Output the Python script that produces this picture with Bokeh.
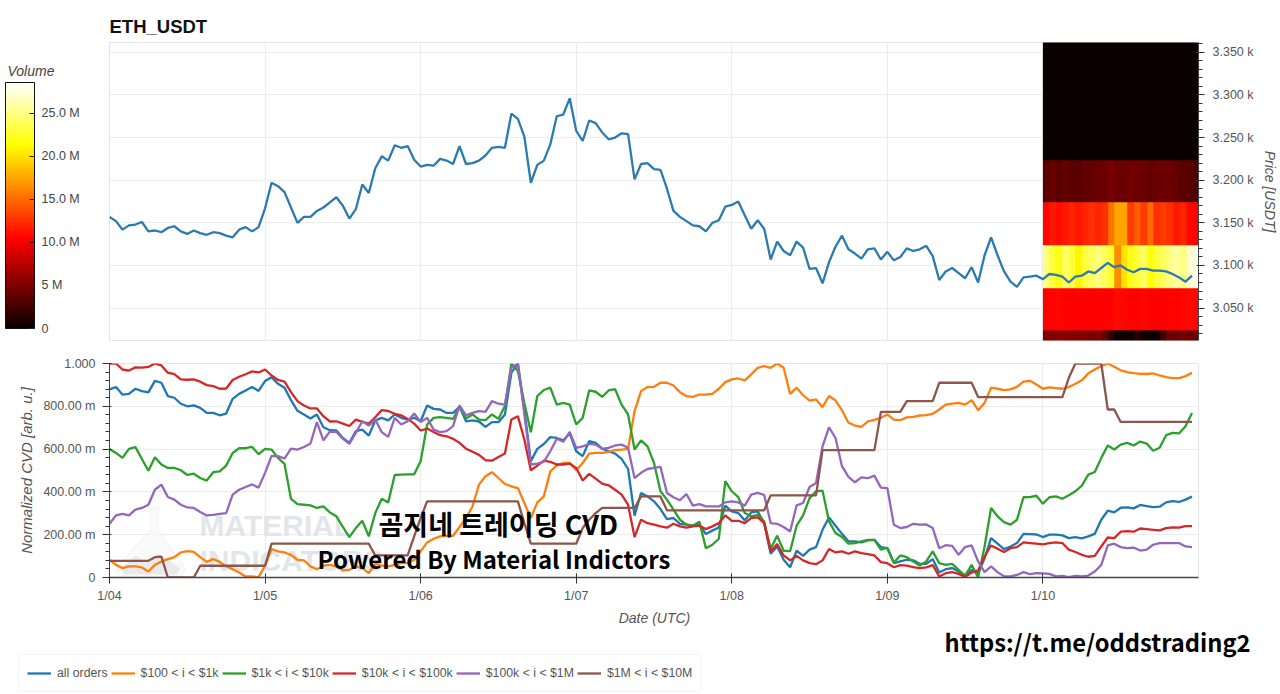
from datetime import datetime, timezone
import numpy as np
from bokeh.embed import file_html
from bokeh.layouts import column
from bokeh.models import (ColorBar, FixedTicker, Label, Legend, LegendItem,
                          LinearColorMapper, PolyAnnotation, Range1d)
from bokeh.plotting import figure
from bokeh.resources import INLINE

TITLE = "ETH_USDT"
DAY_LABELS = ["1/04", "1/05", "1/06", "1/07", "1/08", "1/09", "1/10"]
START = datetime(2022, 1, 4, tzinfo=timezone.utc)

PRICE_TICKS = [3050, 3100, 3150, 3200, 3250, 3300, 3350]
PRICE_LABELS = ["3.050 k", "3.100 k", "3.150 k", "3.200 k", "3.250 k", "3.300 k", "3.350 k"]
CVD_TICKS = [0, 0.2, 0.4, 0.6, 0.8, 1.0]
CVD_LABELS = ["0", "200.00 m", "400.00 m", "600.00 m", "800.00 m", "1.000"]
VOL_TICKS = [0, 5e6, 10e6, 15e6, 20e6, 25e6]
VOL_LABELS = ["0", "5 M", "10.0 M", "15.0 M", "20.0 M", "25.0 M"]

price = [
    3157, 3152, 3142, 3147, 3148, 3151, 3140, 3141, 3139, 3144, 3146, 3140, 3137, 3141, 3138, 3136,
    3139, 3138, 3135, 3133, 3142, 3145, 3140, 3145, 3167, 3197, 3193, 3186, 3168, 3150, 3157, 3157,
    3164, 3168, 3174, 3180, 3170, 3155, 3166, 3195, 3185, 3214, 3228, 3223, 3241, 3238, 3240, 3224,
    3216, 3218, 3217, 3225, 3223, 3219, 3240, 3219, 3220, 3223, 3229, 3238, 3239, 3238, 3278, 3272,
    3251, 3197, 3218, 3223, 3242, 3275, 3277, 3296, 3258, 3246, 3270, 3267, 3256, 3248, 3250, 3255,
    3254, 3201, 3219, 3220, 3213, 3212, 3190, 3164, 3157, 3152, 3147, 3146, 3140, 3150, 3153, 3169,
    3171, 3175, 3159, 3143, 3153, 3143, 3107, 3128, 3117, 3112, 3128, 3121, 3096, 3097, 3079, 3104,
    3122, 3135, 3119, 3114, 3108, 3119, 3120, 3107, 3116, 3106, 3110, 3120, 3117, 3119, 3123, 3111,
    3083, 3093, 3097, 3091, 3085, 3098, 3080, 3112, 3133, 3112, 3093, 3081, 3075, 3086, 3087, 3088,
    3084, 3090, 3089, 3087, 3080, 3087, 3088, 3093, 3091, 3097, 3103, 3098, 3100, 3095, 3092, 3096,
    3096, 3094, 3094, 3093, 3090, 3086, 3081, 3088,
]

all_orders = [
    .879, .89, .855, .858, .882, .871, .865, .919, .91, .848, .84, .812, .80, .804, .793, .769,
    .769, .758, .766, .835, .858, .874, .89, .872, .918, .936, .905, .887, .829, .779, .762, .743,
    .762, .702, .688, .687, .652, .629, .684, .691, .663, .734, .746, .734, .762, .746, .738, .746,
    .73, .804, .788, .785, .769, .769, .798, .73, .734, .729, .704, .726, .726, .762, .957, 1.0,
    .785, .543, .601, .624, .656, .652, .641, .673, .59, .567, .637, .629, .602, .59, .579, .554,
    .507, .289, .395, .379, .356, .32, .273, .278, .251, .247, .242, .247, .203, .219, .234, .336,
    .309, .301, .267, .304, .309, .254, .111, .145, .083, .048, .125, .101, .13, .142, .223, .281,
    .242, .204, .169, .169, .164, .173, .176, .142, .137, .067, .075, .083, .08, .064, .064, .086,
    .023, .039, .044, .028, .009, .036, .02, .09, .184, .158, .133, .145, .161, .204, .203, .201,
    .189, .2, .2, .197, .184, .189, .183, .192, .204, .27, .312, .304, .326, .328, .323, .339,
    .334, .329, .331, .351, .357, .353, .364, .378,
]
usd_100_1k = [
    .083, .059, .044, .052, .052, .047, .028, .059, .075, .086, .095, .117, .123, .12, .095, .073,
    .086, .073, .052, .039, .023, .005, .005, .002, .055, .133, .122, .117, .106, .083, .08, .052,
    .039, .055, .059, .052, .033, .036, .052, .044, .02, .064, .055, .052, .059, .067, .067, .083,
    .122, .164, .181, .192, .195, .195, .236, .278, .332, .434, .473, .492, .465, .437, .426, .418,
    .348, .278, .351, .379, .496, .524, .535, .535, .501, .535, .579, .582, .582, .587, .595, .598,
    .601, .777, .871, .89, .891, .91, .91, .897, .866, .848, .844, .855, .855, .858, .882, .913,
    .926, .93, .921, .949, .98, .988, .98, 1.0, .98, .858, .887, .852, .827, .832, .796, .848,
    .827, .782, .723, .71, .704, .73, .737, .746, .762, .738, .735, .748, .751, .757, .759, .765,
    .785, .808, .812, .816, .808, .829, .782, .816, .887, .882, .876, .879, .891, .915, .919, .902,
    .882, .888, .885, .882, .89, .905, .922, .954, .972, .988, 1.0, .985, .968, .96, .955, .952,
    .951, .954, .944, .936, .932, .932, .941, .957,
]
usd_1k_10k = [
    .601, .582, .559, .601, .609, .554, .499, .562, .528, .512, .512, .501, .479, .485, .465, .453,
    .492, .496, .523, .582, .604, .604, .61, .576, .601, .598, .559, .531, .367, .343, .34, .337,
    .325, .332, .304, .286, .236, .189, .231, .265, .192, .301, .368, .351, .479, .481, .482, .482,
    .543, .715, .746, .749, .746, .741, .798, .743, .762, .738, .735, .762, .741, .801, 1.0, .965,
    .816, .679, .848, .876, .887, .808, .816, .808, .715, .746, .874, .868, .844, .874, .88, .808,
    .762, .598, .641, .613, .535, .403, .364, .317, .27, .247, .242, .261, .137, .153, .181, .45,
    .403, .376, .301, .286, .293, .262, .134, .195, .125, .123, .242, .29, .371, .403, .406, .262,
    .208, .189, .158, .161, .169, .176, .176, .13, .139, .07, .103, .095, .075, .056, .075, .122,
    .067, .059, .064, .036, .009, .059, 0, .145, .325, .286, .259, .247, .27, .375, .376, .382,
    .345, .375, .379, .368, .384, .403, .429, .481, .493, .559, .617, .598, .621, .629, .617, .635,
    .626, .592, .606, .665, .676, .673, .707, .769,
]
usd_10k_100k = [
    1.0, 1.0, .972, .967, .982, .981, .984, 1.0, .991, .957, .95, .926, .924, .926, .915, .899,
    .894, .882, .883, .923, .938, .95, .963, .958, .972, .944, .923, .915, .866, .824, .804, .79,
    .79, .754, .729, .73, .719, .708, .738, .727, .719, .749, .782, .778, .765, .758, .741, .719,
    .687, .696, .68, .665, .66, .648, .629, .602, .588, .573, .548, .546, .563, .579, .738, .754,
    .645, .501, .523, .546, .54, .528, .528, .532, .512, .453, .484, .462, .439, .431, .41, .387,
    .34, .189, .27, .254, .247, .239, .233, .251, .239, .233, .239, .242, .226, .239, .254, .29,
    .265, .265, .254, .278, .281, .254, .122, .156, .103, .08, .101, .08, .067, .062, .08, .133,
    .117, .122, .111, .122, .114, .109, .103, .072, .067, .048, .058, .055, .048, .044, .047, .058,
    .005, .02, .025, .017, .003, .023, .033, .098, .15, .134, .119, .137, .142, .164, .161, .158,
    .155, .161, .164, .161, .13, .119, .106, .097, .101, .145, .187, .184, .214, .217, .214, .229,
    .226, .223, .22, .231, .234, .233, .24, .24,
]
usd_100k_1m = [
    .251, .29, .297, .29, .317, .325, .34, .41, .434, .376, .364, .34, .328, .325, .306, .29,
    .293, .297, .301, .387, .41, .423, .435, .42, .489, .568, .567, .556, .602, .598, .61, .626,
    .726, .641, .682, .68, .649, .624, .676, .73, .71, .738, .679, .657, .746, .715, .73, .766,
    .727, .746, .691, .679, .684, .707, .804, .758, .769, .777, .774, .824, .812, .808, .98, 1.0,
    .762, .528, .532, .54, .59, .648, .634, .68, .606, .613, .624, .621, .601, .606, .617, .621,
    .606, .465, .489, .507, .512, .517, .395, .375, .361, .39, .336, .343, .332, .332, .332, .351,
    .356, .351, .336, .387, .395, .386, .254, .251, .236, .215, .337, .348, .423, .442, .613, .702,
    .652, .52, .47, .445, .468, .464, .476, .42, .418, .247, .231, .236, .251, .247, .248, .231,
    .137, .151, .148, .106, .142, .15, .075, .025, .052, .025, .006, .005, .012, .025, .016, .02,
    .019, .017, .005, .008, .002, .008, .005, .009, .028, .059, .15, .158, .142, .137, .14, .126,
    .13, .153, .161, .161, .161, .161, .145, .142,
]
usd_1m_10m = [
    .078, .078, .078, .078, .078, .078, .078, .095, .098, 0, 0, 0, 0, 0, .055, .055,
    .055, .055, .055, .055, .055, .055, .055, .055, .055, .158, .158, .158, .158, .158, .158, .158,
    .158, .158, .158, .158, .158, .158, .158, .158, .158, .103, .103, .103, .103, .103, .103, .192,
    .278, .356, .356, .356, .356, .356, .356, .356, .356, .356, .356, .356, .356, .356, .356, .356,
    .254, .158, .158, .158, .158, .158, .158, .158, .158, .231, .27, .301, .325, .325, .325, .325,
    .325, .325, .379, .379, .379, .379, .314, .314, .314, .314, .314, .314, .314, .314, .314, .314,
    .314, .314, .314, .314, .314, .314, .384, .384, .384, .384, .384, .384, .384, .384, .595, .595,
    .595, .595, .595, .595, .595, .595, .595, .774, .774, .774, .774, .824, .824, .824, .824, .824,
    .91, .91, .91, .91, .91, .91, .843, .843, .843, .843, .843, .843, .843, .843, .843, .843,
    .843, .843, .843, .843, .933, 1.0, 1.0, 1.0, 1.0, 1.0, .785, .785, .727, .727, .727, .727,
    .727, .727, .727, .727, .727, .727, .727, .727,
]

# Volume (millions) per hour column from 1/10 00:00, one list per 50 USDT price band, lowest first.
vol_2973 = [5.2, 5.2, 5.5, 5.5, 5.2, 5.2, 5.2, 4.8, 5.2, 4, 1.6, .3, .3, .3, 1.5, .3, .3, .3, 2.6, 4.2, 4.2, 4.6, 4.2, 4.2]
vol_3023 = [10.5, 10.6, 10.7, 10.6, 10.5, 10.6, 10.5, 10.5, 10.6, 10.4, 10.6, 10.9, 10.8, 10.6, 10.5, 10.7, 10.6, 10.5, 10.5, 10.6, 10.6, 10.7, 10.9, 10.7]
vol_3073 = [25, 23, 22, 24, 23, 21, 23, 24, 25, 24, 22.5, 16.5, 20, 22, 23, 24, 21.5, 23, 24, 25, 26, 25, 27, 28]
vol_3123 = [10.8, 11.5, 11, 11.5, 12, 11.5, 12, 12.5, 12, 12.5, 15.5, 17.5, 17.5, 13, 14.5, 13, 15, 12.5, 13, 12.5, 11.5, 12, 10.8, 10.5]
vol_3173 = [3.5, 4, 3.5, 3.8, 3.5, 3.5, 3.8, 3.8, 4.2, 4.2, 4.8, 4.2, 4.2, 4.5, 4.2, 4.2, 3.8, 4.2, 4.2, 4.2, 3.8, 3.5, 3.5, 3]
vol_3223 = [.1] * 24
vol_3273 = [.1] * 24
vol_3323 = [.1] * 24

SERIES = [("all orders", all_orders, "#1f77b4"), ("$100 < i < $1k", usd_100_1k, "#ff7f0e"),
          ("$1k < i < $10k", usd_1k_10k, "#2ca02c"), ("$10k < i < $100k", usd_10k_100k, "#d62728"),
          ("$100k < i < $1M", usd_100k_1m, "#9467bd"), ("$1M < i < $10M", usd_1m_10m, "#8c564b")]

HOUR = 3600000.0
t0 = START.timestamp() * 1000
times = [t0 + i * HOUR for i in range(len(price))]
day_ticks = [t0 + i * 24 * HOUR for i in range(len(DAY_LABELS))]
x_range = Range1d(t0, t0 + 168 * HOUR)


def hot(n=256):
    out = []
    for i in range(n):
        f = i / (n - 1)
        r = min(1, f / 0.365)
        g = min(1, max(0, (f - 0.365) / 0.381))
        b = min(1, max(0, (f - 0.746) / 0.254))
        out.append("#%02x%02x%02x" % (int(10 + 245 * r), int(255 * g), int(255 * b)))
    return out


mapper = LinearColorMapper(palette=hot(), low=0, high=28.6e6)

# ---- price panel
top = figure(width=1280, height=350, x_range=x_range, y_range=Range1d(3012, 3361.5),
             x_axis_type="datetime", y_axis_location="right", title=TITLE,
             toolbar_location=None, output_backend="svg", min_border_left=109,
             min_border_right=82, min_border_top=42, min_border_bottom=10)
top.title.text_font = "Liberation Sans"
top.title.text_font_size = "18.5px"
top.title.text_color = "#111111"
top.title.offset = 0
top.title.standoff = 11
top.xaxis.visible = False
top.xgrid.ticker = FixedTicker(ticks=day_ticks)
top.grid.grid_line_color = "#ececec"
top.grid.grid_line_width = 1.2

bands = np.array([vol_2973, vol_3023, vol_3073, vol_3123, vol_3173, vol_3223, vol_3273, vol_3323]) * 1e6
top.image(image=[bands], x=t0 + 144 * HOUR, y=2973.5, dw=24 * HOUR, dh=400, color_mapper=mapper)
top.line(times, price, line_color="#2b7bb0", line_width=2.3)

ax = top.yaxis[0]
ax.ticker = FixedTicker(ticks=PRICE_TICKS, minor_ticks=list(range(3020, 3361, 10)))
ax.major_label_overrides = dict(zip(PRICE_TICKS, PRICE_LABELS))
ax.axis_label = "Price [USDT]"
ax.major_label_standoff = 8

color_bar = ColorBar(color_mapper=mapper, location=(-104, 12), width=29, height=246, padding=0, margin=0,
                     ticker=FixedTicker(ticks=VOL_TICKS), major_label_overrides=dict(zip(VOL_TICKS, VOL_LABELS)),
                     major_label_text_font_size="12.5px", major_label_text_font="Liberation Sans",
                     major_label_text_color="#444444",
                     major_tick_line_color="#222222", major_tick_in=5,
                     minor_tick_line_color=None, bar_line_color="#111111", label_standoff=7)
top.add_layout(color_bar)

# The colour bar's heading: outside the frame only a colour bar's labels are drawn, so it is one.
heading = ColorBar(color_mapper=LinearColorMapper(palette=["#ffffff"], low=0, high=1),
                   location=(-103, 263), width=1, height=14, padding=0, margin=0,
                   ticker=FixedTicker(ticks=[0.5]), major_label_overrides={0.5: "Volume"},
                   major_label_text_font_size="14px", major_label_text_font="Liberation Sans",
                   major_label_text_font_style="italic", major_label_text_color="#444444",
                   major_tick_line_color=None, minor_tick_line_color=None, bar_line_color=None,
                   label_standoff=0)
top.add_layout(heading)

# ---- CVD panel
bot = figure(width=1280, height=257, x_range=x_range, y_range=Range1d(0, 1), x_axis_type="datetime",
             toolbar_location=None, output_backend="svg", min_border_left=109,
             min_border_right=82, min_border_top=13, min_border_bottom=30)
bot.grid.grid_line_color = "#ececec"
bot.grid.grid_line_width = 1.2
bot.xgrid.ticker = FixedTicker(ticks=day_ticks)
bot.ygrid.ticker = FixedTicker(ticks=CVD_TICKS)

xa = bot.xaxis[0]
xa.ticker = FixedTicker(ticks=day_ticks)
xa.major_label_overrides = dict(zip(day_ticks, DAY_LABELS))
xa.major_tick_in = 4
xa.major_tick_out = 6
xa.axis_line_width = 1.5

ya = bot.yaxis[0]
ya.ticker = FixedTicker(ticks=CVD_TICKS, minor_ticks=[i / 25 for i in range(26)])
ya.major_label_overrides = dict(zip(CVD_TICKS, CVD_LABELS))
ya.axis_label = "Normalized CVD [arb. u.]"
ya.major_tick_out = 7
ya.major_label_standoff = 7
ya.axis_label_standoff = 5

for axis in (ax, xa, ya):
    axis.major_label_text_font = "Liberation Sans"
    axis.major_label_text_font_size = "12.5px"
    axis.major_label_text_color = "#555555"
    axis.axis_label_text_font = "Liberation Sans"
    axis.axis_label_text_font_size = "15px" if axis is ya else "14px"
    axis.axis_label_text_font_style = "italic"
    axis.axis_label_text_color = "#555555"
    axis.axis_line_color = "#444444"
    axis.major_tick_line_color = "#333333"
    axis.minor_tick_line_color = "#333333"

watermark = [("MATERIAL", 199, 525), ("INDICATORS", 199, 560)]
for text, px, py in watermark:
    bot.add_layout(Label(x=px - 109, y=577 - py, x_units="screen", y_units="screen", text=text,
                         text_font="Liberation Sans", text_font_style="bold", text_font_size="30px",
                         text_color="#e3e6e9", text_baseline="middle", level="underlay"))
flask_x = [150, 158, 158, 185, 180, 120, 115, 150]
flask_y = [507, 507, 530, 568, 576, 576, 568, 530]
bot.add_layout(PolyAnnotation(xs=[v - 109 for v in flask_x], ys=[577 - v for v in flask_y],
                              xs_units="screen", ys_units="screen", fill_color="#f6f7f8", fill_alpha=0.6,
                              line_color="#e6e8ea", line_width=1.5, level="underlay"))
mount_x = [120, 135, 146, 158, 170, 180, 176, 124]
mount_y = [568, 555, 561, 553, 561, 568, 574, 574]
bot.add_layout(PolyAnnotation(xs=[v - 109 for v in mount_x], ys=[577 - v for v in mount_y],
                              xs_units="screen", ys_units="screen", fill_color="#e6e9ec", fill_alpha=0.9,
                              line_color=None, level="underlay"))

for name, values, colour in SERIES:
    bot.line(times, values, line_color=colour, line_width=2.3)

overlay = [("곰지네 트레이딩 CVD", 378, 523, "27px"), ("Powered By Material Indictors", 317, 558, "24px")]
for text, px, py, size in overlay:
    bot.add_layout(Label(x=px - 109, y=577 - py, x_units="screen", y_units="screen", text=text,
                         text_font="Noto Sans CJK KR", text_font_style="bold", text_font_size=size,
                         text_color="#000000", text_baseline="middle"))

# ---- strip under the chart: x-axis title, legend and link.
# Same series, off this strip's scale, keep the legend keys real.
foot = figure(width=1280, height=85, x_range=Range1d(0, 1280), y_range=Range1d(10, 11),
              x_axis_type=None, y_axis_type=None, toolbar_location=None, output_backend="svg",
              min_border=0, outline_line_color=None)
foot.grid.visible = False
items = []
for name, values, colour in SERIES:
    r = foot.line(times, values, line_color=colour, line_width=2.3)
    items.append(LegendItem(label=name, renderers=[r]))
legend = Legend(items=items, orientation="horizontal", location=(18, 0), margin=0, padding=8, spacing=3,
                label_text_font="Liberation Sans", label_text_font_size="12.3px", label_text_color="#555555",
                glyph_width=24, label_standoff=6, border_line_color="#ececec", background_fill_alpha=1)
foot.add_layout(legend)
foot.add_layout(Label(x=654, y=692 - 617, x_units="screen", y_units="screen", text="Date (UTC)",
                      text_font="Liberation Sans", text_font_style="italic", text_font_size="14px",
                      text_color="#555555", text_baseline="middle", text_align="center"))
foot.add_layout(Label(x=944, y=692 - 641, x_units="screen", y_units="screen", text="https://t.me/oddstrading2",
                      text_font="Noto Sans CJK KR", text_font_style="bold", text_font_size="23.7px",
                      text_color="#000000", text_baseline="middle"))

page = column(column(top, bot, spacing=0), foot, spacing=0)
open("out.html", "w").write(file_html(page, INLINE))
